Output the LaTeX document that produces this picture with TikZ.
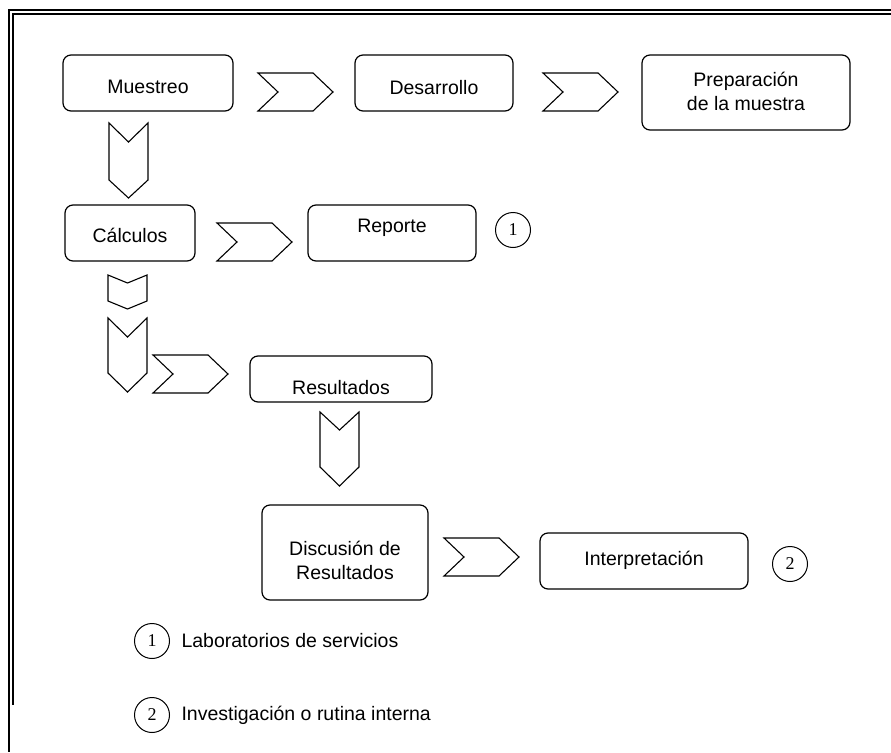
\documentclass[tikz,border=0pt]{standalone}
\usepackage{fontspec}
\setmainfont{Liberation Sans}
\newfontfamily\numfont{Liberation Serif}
\tikzset{
  stage/.style={draw, line width=1.2pt, rounded corners=8pt, inner sep=0pt},
  chev/.style={draw, line width=1.1pt, line join=miter},
  num/.style={draw, circle, line width=1pt, minimum size=35pt, inner sep=0pt,
              font=\numfont\fontsize{18}{18}\selectfont},
  lbl/.style={font=\fontsize{19.5}{23.5}\selectfont, align=center},
  frame/.style={line width=1.3pt},
  rchev/.pic={\draw[chev] (0,0) -- (55,0) -- (75,19) -- (55,38) -- (0,38) -- (20,19) -- cycle;}
}
% downward chevron: left x, top, notch, end of sides, tip
\newcommand\downchev[5]{%
  \draw[chev] (#1,#2) -- ({#1+19.5},#3) -- ({#1+39},#2) -- ({#1+39},#4)
    -- ({#1+19.5},#5) -- (#1,#4) -- cycle;}
\begin{document}
\begin{tikzpicture}[x=1pt, y=-1pt, every label/.style={lbl}]
\useasboundingbox (0,0) rectangle (891,752);

% double frame line, top and left
\draw[frame] (891,10) -- (9,10) -- (9,752);
\draw[frame] (891,14) -- (13,14) -- (13,705);

% process steps
\node[stage, minimum width=170pt, minimum height=56pt, label={[yshift=-4pt]center:Muestreo}] (muestreo) at (148,83) {};
\node[stage, minimum width=158pt, minimum height=56pt, label={[yshift=-5pt]center:Desarrollo}] (desarrollo) at (434,83) {};
\node[stage, minimum width=208pt, minimum height=75pt, label={[yshift=1pt]center:Preparación\\de la muestra}] (prep) at (746,92.5) {};
\node[stage, minimum width=130pt, minimum height=56pt, label={[yshift=-2pt]center:Cálculos}] (calculos) at (130,233) {};
\node[stage, minimum width=168pt, minimum height=56pt, label={[yshift=5pt]center:Reporte}] (reporte) at (392,233) {};
\node[stage, minimum width=182pt, minimum height=46pt, label={[yshift=-9pt]center:Resultados}] (resultados) at (341,379) {};
\node[stage, minimum width=166pt, minimum height=95pt, label={[yshift=-8pt]center:Discusión de\\Resultados}] (discusion) at (345,552.5) {};
\node[stage, minimum width=208pt, minimum height=56pt, label={[yshift=1pt]center:Interpretación}] (interp) at (644,561) {};

% markers
\node[num] (m1) at (513,230) {1};
\node[num] (m2) at (790,564) {2};

% horizontal chevrons
\pic at (258,73) {rchev};
\pic at (543,73) {rchev};
\pic at (217,223) {rchev};
\pic at (153,355) {rchev};
\pic at (444,538) {rchev};

% vertical chevrons
\downchev{109}{123}{142}{180}{198}
\downchev{108}{275}{283}{301}{309}
\downchev{108}{318}{337}{373}{392}
\downchev{320}{412}{430}{467}{486}

% legend
\node[num] (k1) at (152,641) {1};
\node[lbl, anchor=west] (k1t) at (178,641) {Laboratorios de servicios};
\node[num] (k2) at (152,715) {2};
\node[lbl, anchor=west] (k2t) at (178,715) {Investigación o rutina interna};
\end{tikzpicture}
\end{document}
